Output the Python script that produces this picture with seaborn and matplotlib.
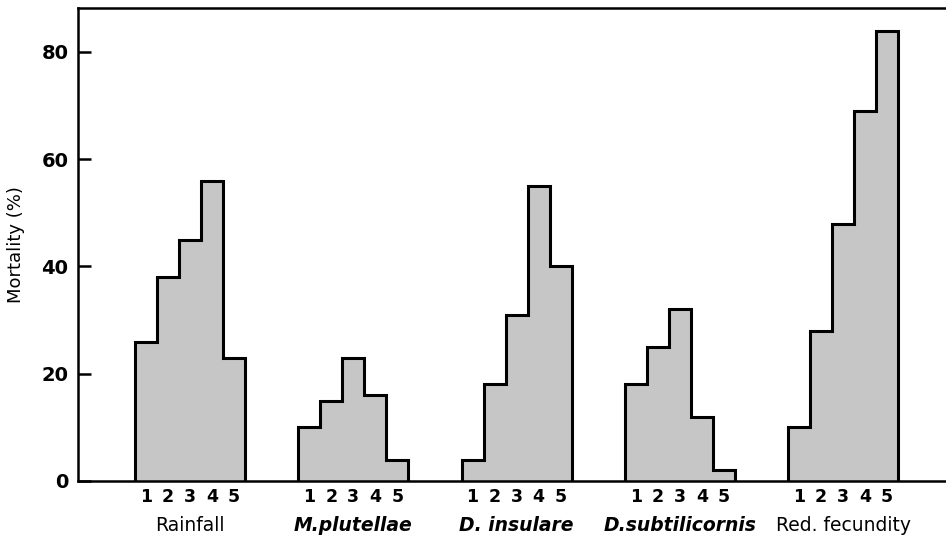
import numpy as np
import pandas as pd
import matplotlib
matplotlib.use("Agg")
import matplotlib.pyplot as plt
import seaborn as sns

# ---- data ----
groups = ["Rainfall", "M.plutellae", "D. insulare", "D.subtilicornis", "Red. fecundity"]
group_italic = [False, True, True, True, False]
classes = ["1", "2", "3", "4", "5"]
rainfall = [26, 38, 45, 56, 23]
m_plutellae = [10, 15, 23, 16, 4]
d_insulare = [4, 18, 31, 55, 40]
d_subtilicornis = [18, 25, 32, 12, 2]
red_fecundity = [10, 28, 48, 69, 84]
series = [rainfall, m_plutellae, d_insulare, d_subtilicornis, red_fecundity]
yticks = [0, 20, 40, 60, 80]

GROUP_STEP = 7.42  # spacing between group centres, in bar widths

rows = []
for gi, (g, vals) in enumerate(zip(groups, series)):
    for ci, (c, v) in enumerate(zip(classes, vals)):
        rows.append({"group": g, "cls": c, "pos": gi * GROUP_STEP + ci - 2, "value": v})
df = pd.DataFrame(rows)

sns.set_style("white")
plt.rcParams["font.family"] = ["DejaVu Sans"]
plt.rcParams["text.color"] = "black"
plt.rcParams["axes.labelcolor"] = "black"
plt.rcParams["xtick.color"] = "black"
plt.rcParams["ytick.color"] = "black"

W, H = 946, 547
fig = plt.figure(figsize=(W / 100, H / 100), dpi=100)
ax = fig.add_axes([78 / W, (H - 481) / H, (W - 78) / W, (481 - 8) / H])

sns.barplot(data=df, x="pos", y="value", native_scale=True, width=1.0,
            color="#c6c6c6", saturation=1, linewidth=0, errorbar=None, ax=ax)

# step outlines of each group
for gi, vals in enumerate(series):
    start = gi * GROUP_STEP - 2.5
    edges = start + np.arange(len(vals) + 1)
    ax.stairs(vals, edges, baseline=0, color="black", lw=2.2, zorder=3)

ax.set_xlim(-5.09, 34.36)
ax.set_ylim(0, 88.2)

ax.set_yticks(yticks)
ax.set_yticklabels([str(t) for t in yticks], fontsize=14, fontweight="bold")
ax.tick_params(axis="y", left=True, direction="in", length=9, width=1.8, pad=7,
               colors="black")

ax.set_xticks(df["pos"].tolist())
ax.set_xticklabels(df["cls"].tolist(), fontsize=12.5, fontweight="bold")
ax.tick_params(axis="x", length=0, pad=5, colors="black")
ax.set_xlabel("")
ax.set_ylabel("Mortality (%)", fontsize=13, labelpad=12, color="black")

for gi, (g, it) in enumerate(zip(groups, group_italic)):
    ax.annotate(g, xy=(gi * GROUP_STEP, 0), xycoords=("data", "axes fraction"),
                xytext=(0, -32), textcoords="offset points", ha="center", va="center",
                fontsize=13.5, color="black", fontstyle="italic" if it else "normal",
                fontweight="bold" if it else "normal")

for s in ["left", "top", "bottom"]:
    ax.spines[s].set_visible(True)
    ax.spines[s].set_color("black")
    ax.spines[s].set_linewidth(1.8)
ax.spines["right"].set_visible(False)

fig.savefig("out.png", dpi=100)
